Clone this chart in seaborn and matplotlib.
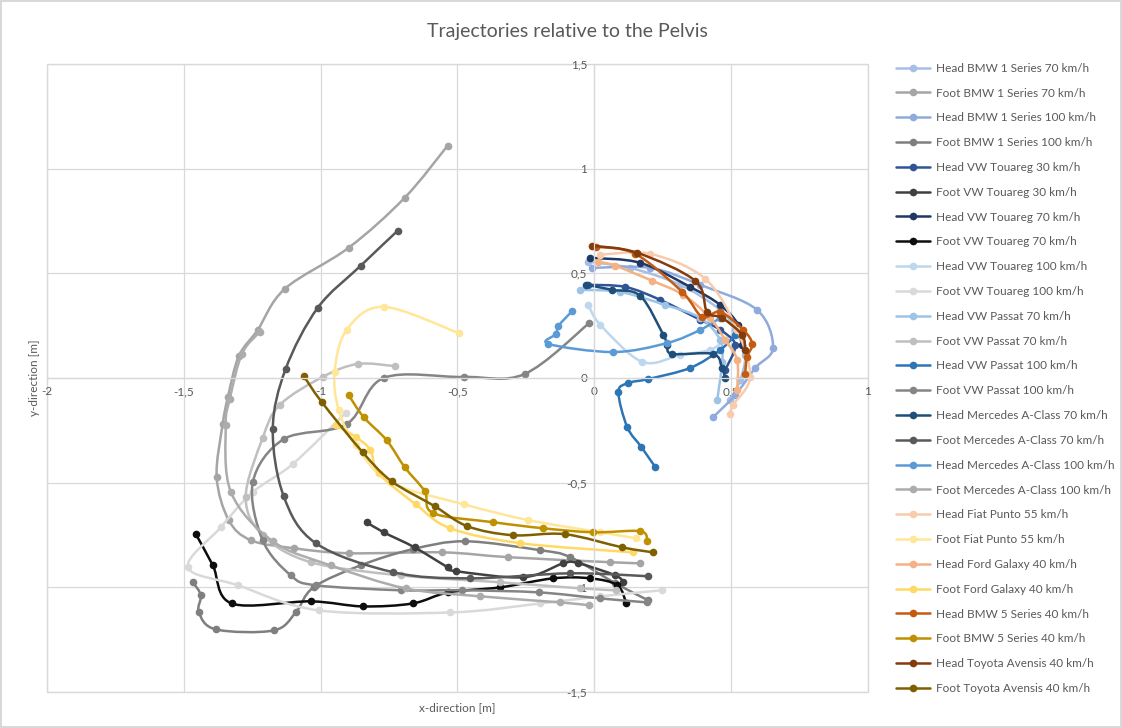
import matplotlib
matplotlib.use("Agg")
import matplotlib.pyplot as plt
import seaborn as sns
from matplotlib.ticker import FuncFormatter
from matplotlib.path import Path
from matplotlib.patches import PathPatch
from matplotlib.lines import Line2D

# ---- series names and colours ----
names = [
    "Head BMW 1 Series 70 km/h", "Foot BMW 1 Series 70 km/h",
    "Head BMW 1 Series 100 km/h", "Foot BMW 1 Series 100 km/h",
    "Head VW Touareg 30 km/h", "Foot VW Touareg 30 km/h",
    "Head VW Touareg 70 km/h", "Foot VW Touareg 70 km/h",
    "Head VW Touareg 100 km/h", "Foot VW Touareg 100 km/h",
    "Head VW Passat 70 km/h", "Foot VW Passat 70 km/h",
    "Head VW Passat 100 km/h", "Foot VW Passat 100 km/h",
    "Head Mercedes A-Class 70 km/h", "Foot Mercedes A-Class 70 km/h",
    "Head Mercedes A-Class 100 km/h", "Foot Mercedes A-Class 100 km/h",
    "Head Fiat Punto 55 km/h", "Foot Fiat Punto 55 km/h",
    "Head Ford Galaxy 40 km/h", "Foot Ford Galaxy 40 km/h",
    "Head BMW 5 Series 40 km/h", "Foot BMW 5 Series 40 km/h",
    "Head Toyota Avensis 40 km/h", "Foot Toyota Avensis 40 km/h",
]
colors = [
    "#a6bfe3", "#a5a5a5", "#8faadc", "#7f7f7f",
    "#2f5597", "#404040", "#1f3864", "#0d0d0d",
    "#bdd7ee", "#d9d9d9", "#9dc3e6", "#bfbfbf",
    "#2e75b6", "#858585", "#1f4e79", "#595959",
    "#5b9bd5", "#acacac", "#f8cbad", "#ffe699",
    "#f4b183", "#ffd966", "#c55a11", "#bf9000",
    "#843c0c", "#7f6000",
]

# ---- trajectories (x, y in metres) ----
head_bmw1_70_x = [-0.022, 0.131, 0.314, 0.460, 0.515, 0.551, 0.533, 0.496]
head_bmw1_70_y = [0.555, 0.526, 0.445, 0.325, 0.230, 0.110, -0.010, -0.105]
foot_bmw1_70_x = [-0.536, -0.693, -0.898, -1.131, -1.230, -1.299, -1.339, -1.358, -1.380,
                  -1.336, -1.255, -1.099, -0.898, -0.555, -0.314, 0.058, 0.168]
foot_bmw1_70_y = [1.110, 0.861, 0.622, 0.426, 0.230, 0.105, -0.091, -0.220, -0.474,
                  -0.679, -0.775, -0.813, -0.837, -0.833, -0.856, -0.880, -0.885]

head_bmw1_100_x = [-0.007, 0.204, 0.387, 0.595, 0.653, 0.588, 0.515, 0.434]
head_bmw1_100_y = [0.526, 0.526, 0.445, 0.325, 0.144, 0.048, -0.081, -0.187]
foot_bmw1_100_x = [-1.467, -1.438, -1.445, -1.383, -1.172, -1.091, -1.026, -0.854, -0.664,
                   -0.471, -0.197, -0.088, 0.077, 0.197]
foot_bmw1_100_y = [-0.976, -1.038, -1.120, -1.201, -1.206, -1.120, -1.000, -0.895, -0.818,
                   -0.780, -0.823, -0.856, -0.981, -1.062]

head_touareg_30_x = [-0.022, 0.113, 0.241, 0.387, 0.460, 0.515, 0.478]
head_touareg_30_y = [0.445, 0.435, 0.373, 0.278, 0.230, 0.158, 0.038]
foot_touareg_30_x = [-0.832, -0.770, -0.657, -0.536, -0.504, -0.259, -0.113, -0.058, 0.077, 0.106]
foot_touareg_30_y = [-0.689, -0.737, -0.809, -0.904, -0.923, -0.952, -0.885, -0.885, -0.943, -0.976]

head_touareg_70_x = [-0.015, 0.168, 0.350, 0.460, 0.526, 0.540]
head_touareg_70_y = [0.574, 0.550, 0.435, 0.349, 0.254, 0.158]
foot_touareg_70_x = [-1.456, -1.394, -1.325, -1.036, -0.847, -0.664, -0.533, -0.343, -0.150,
                     -0.015, 0.084, 0.117]
foot_touareg_70_y = [-0.746, -0.895, -1.077, -1.067, -1.091, -1.077, -1.024, -1.000, -0.957,
                     -0.957, -0.990, -1.077]

head_touareg_100_x = [-0.022, 0.022, 0.175, 0.314, 0.423, 0.478]
head_touareg_100_y = [0.349, 0.254, 0.077, 0.110, 0.134, 0.182]
foot_touareg_100_x = [-0.909, -1.102, -1.248, -1.365, -1.485, -1.303, -1.007, -0.526, -0.197,
                      0.022, 0.248]
foot_touareg_100_y = [-0.167, -0.411, -0.545, -0.713, -0.904, -0.990, -1.110, -1.120, -1.077,
                      -1.043, -1.014]

head_passat_70_x = [-0.051, 0.095, 0.259, 0.387, 0.460, 0.467, 0.449]
head_passat_70_y = [0.421, 0.411, 0.349, 0.287, 0.182, 0.077, -0.105]
foot_passat_70_x = [-0.730, -0.865, -0.993, -1.150, -1.212, -1.274, -1.212, -1.036, -0.708,
                    -0.343, -0.051, 0.080]
foot_passat_70_y = [0.057, 0.067, 0.005, -0.129, -0.287, -0.569, -0.751, -0.880, -0.943,
                    -0.976, -1.005, -1.014]

head_passat_100_x = [0.223, 0.172, 0.120, 0.088, 0.124, 0.197, 0.350, 0.460, 0.515]
head_passat_100_y = [-0.426, -0.330, -0.234, -0.067, -0.024, -0.005, 0.048, 0.134, 0.206]
foot_passat_100_x = [-0.018, -0.255, -0.478, -0.770, -0.905, -1.135, -1.248, -1.212, -1.109,
                     -1.018, -0.708, -0.482, -0.204, 0.022, 0.193]
foot_passat_100_y = [0.263, 0.019, 0.005, 0.000, -0.220, -0.292, -0.498, -0.775, -0.943,
                     -0.990, -1.014, -1.014, -1.024, -1.053, -1.072]

head_merc_70_x = [-0.029, 0.066, 0.168, 0.252, 0.266, 0.285, 0.434, 0.467, 0.478]
head_merc_70_y = [0.445, 0.421, 0.392, 0.206, 0.158, 0.115, 0.115, 0.048, 0.000]
foot_merc_70_x = [-0.719, -0.854, -1.011, -1.128, -1.175, -1.135, -1.018, -0.734, -0.453,
                  -0.088, 0.197]
foot_merc_70_y = [0.703, 0.536, 0.335, 0.043, -0.244, -0.565, -0.789, -0.928, -0.957,
                  -0.933, -0.947]

head_merc_100_x = [-0.080, -0.131, -0.139, -0.168, 0.069, 0.266, 0.387, 0.460]
head_merc_100_y = [0.321, 0.249, 0.211, 0.163, 0.124, 0.167, 0.230, 0.287]
foot_merc_100_x = [-1.223, -1.288, -1.332, -1.347, -1.328, -1.175, -0.964, -0.690, -0.416,
                   -0.124, -0.018]
foot_merc_100_y = [0.220, 0.115, -0.100, -0.225, -0.545, -0.780, -0.895, -1.005, -1.043,
                   -1.072, -1.086]

head_punto_x = [0.022, 0.204, 0.405, 0.522, 0.569, 0.507, 0.496]
head_punto_y = [0.589, 0.593, 0.474, 0.230, 0.005, -0.129, -0.172]
foot_punto_x = [-0.496, -0.770, -0.905, -0.949, -0.934, -0.872, -0.745, -0.478, -0.241, 0.022, 0.153]
foot_punto_y = [0.215, 0.340, 0.230, 0.029, -0.153, -0.321, -0.498, -0.603, -0.679, -0.737, -0.766]

head_galaxy_x = [0.015, 0.077, 0.212, 0.325, 0.423, 0.478, 0.522, 0.522]
head_galaxy_y = [0.555, 0.536, 0.464, 0.397, 0.287, 0.182, 0.086, -0.057]
foot_galaxy_x = [-0.945, -0.872, -0.818, -0.788, -0.653, -0.526, -0.270, 0.142]
foot_galaxy_y = [-0.225, -0.282, -0.344, -0.455, -0.603, -0.718, -0.789, -0.833]

head_bmw5_x = [0.007, 0.150, 0.321, 0.394, 0.460, 0.544, 0.577, 0.558, 0.551]
head_bmw5_y = [0.627, 0.593, 0.411, 0.292, 0.316, 0.230, 0.163, 0.100, 0.019]
foot_bmw5_x = [-0.898, -0.843, -0.759, -0.693, -0.620, -0.588, -0.369, -0.186, -0.004, 0.168, 0.193]
foot_bmw5_y = [-0.081, -0.187, -0.297, -0.426, -0.541, -0.646, -0.689, -0.718, -0.737, -0.732, -0.780]

head_avensis_x = [-0.007, 0.157, 0.369, 0.412, 0.467, 0.540, 0.551]
head_avensis_y = [0.632, 0.598, 0.464, 0.316, 0.287, 0.206, 0.134]
foot_avensis_x = [-1.062, -0.996, -0.847, -0.741, -0.584, -0.464, -0.299, -0.109, 0.102, 0.215]
foot_avensis_y = [0.010, -0.115, -0.354, -0.493, -0.612, -0.708, -0.751, -0.746, -0.809, -0.833]

trajectories = [
    (head_bmw1_70_x, head_bmw1_70_y), (foot_bmw1_70_x, foot_bmw1_70_y),
    (head_bmw1_100_x, head_bmw1_100_y), (foot_bmw1_100_x, foot_bmw1_100_y),
    (head_touareg_30_x, head_touareg_30_y), (foot_touareg_30_x, foot_touareg_30_y),
    (head_touareg_70_x, head_touareg_70_y), (foot_touareg_70_x, foot_touareg_70_y),
    (head_touareg_100_x, head_touareg_100_y), (foot_touareg_100_x, foot_touareg_100_y),
    (head_passat_70_x, head_passat_70_y), (foot_passat_70_x, foot_passat_70_y),
    (head_passat_100_x, head_passat_100_y), (foot_passat_100_x, foot_passat_100_y),
    (head_merc_70_x, head_merc_70_y), (foot_merc_70_x, foot_merc_70_y),
    (head_merc_100_x, head_merc_100_y), (foot_merc_100_x, foot_merc_100_y),
    (head_punto_x, head_punto_y), (foot_punto_x, foot_punto_y),
    (head_galaxy_x, head_galaxy_y), (foot_galaxy_x, foot_galaxy_y),
    (head_bmw5_x, head_bmw5_y), (foot_bmw5_x, foot_bmw5_y),
    (head_avensis_x, head_avensis_y), (foot_avensis_x, foot_avensis_y),
]

x_ticks = [-2, -1.5, -1, -0.5, 0, 0.5, 1]
y_ticks = [-1.5, -1, -0.5, 0, 0.5, 1, 1.5]


def smooth_path(xs, ys):
    """Cubic Bezier path through the points (smoothed scatter line)."""
    pts = list(zip(xs, ys))
    n = len(pts)
    verts = [pts[0]]
    codes = [Path.MOVETO]
    for i in range(n - 1):
        p0 = pts[max(i - 1, 0)]
        p1 = pts[i]
        p2 = pts[i + 1]
        p3 = pts[min(i + 2, n - 1)]
        c1 = (p1[0] + (p2[0] - p0[0]) / 6, p1[1] + (p2[1] - p0[1]) / 6)
        c2 = (p2[0] - (p3[0] - p1[0]) / 6, p2[1] - (p3[1] - p1[1]) / 6)
        verts += [c1, c2, p2]
        codes += [Path.CURVE4] * 3
    return Path(verts, codes)


# ---- figure ----
sns.set_theme(style="white")
plt.rcParams["font.family"] = ["Lato", "DejaVu Sans"]
text_col = "#595959"
grid_col = "#d9d9d9"
line_w = 1.8
mark_s = 5.5

fig = plt.figure(figsize=(11.22, 7.28), dpi=100)
fig.patch.set_edgecolor(grid_col)
fig.patch.set_linewidth(1.5)
ax = fig.add_axes([47 / 1122, 36 / 728, (868 - 47) / 1122, (692 - 64) / 728])

handles = []
for k, ((xs, ys), name, col) in enumerate(zip(trajectories, names, colors)):
    z = 2 + k * 0.01
    ax.add_patch(PathPatch(smooth_path(xs, ys), facecolor="none", edgecolor=col,
                           linewidth=line_w, zorder=z, capstyle="round",
                           joinstyle="round"))
    sns.scatterplot(x=xs, y=ys, ax=ax, color=col, s=mark_s ** 2, linewidth=0,
                    legend=False, zorder=z + 0.005)
    handles.append(Line2D([], [], color=col, linewidth=line_w, marker="o",
                          markersize=mark_s, markeredgewidth=0, label=name))

ax.set_xlim(x_ticks[0], x_ticks[-1])
ax.set_ylim(y_ticks[0], y_ticks[-1])
ax.set_xticks(x_ticks)
ax.set_yticks(y_ticks)
fmt = FuncFormatter(lambda v, _: f"{v:g}".replace(".", ","))
ax.xaxis.set_major_formatter(fmt)
ax.yaxis.set_major_formatter(fmt)
ax.grid(True, color=grid_col, linewidth=0.9)
ax.set_axisbelow(True)

for side in ("top", "right"):
    ax.spines[side].set_visible(False)
ax.spines["left"].set_position(("data", 0))
ax.spines["bottom"].set_position(("data", 0))
for side in ("left", "bottom"):
    ax.spines[side].set_color(grid_col)
    ax.spines[side].set_linewidth(0.9)
ax.patch.set_edgecolor(grid_col)
ax.patch.set_linewidth(1.0)
ax.tick_params(axis="both", length=0, labelsize=8.5, labelcolor=text_col)
ax.tick_params(axis="x", pad=6)
ax.tick_params(axis="y", pad=5)

ax.set_xlabel("x-direction [m]", fontsize=8.5, color=text_col)
ax.set_ylabel("y-direction [m]", fontsize=8.5, color=text_col)
ax.xaxis.set_label_coords(0.5, -0.016)
ax.yaxis.set_label_coords(-0.009, 0.5)

fig.text(567 / 1122, 1 - 32 / 728, "Trajectories relative to the Pelvis",
         ha="center", va="center", fontsize=14, color=text_col)

ax.legend(handles=handles, loc="upper left", bbox_to_anchor=(891 / 1122, 1 - 58 / 728),
          bbox_transform=fig.transFigure, frameon=False, fontsize=8.5,
          labelcolor=text_col, handlelength=2.9, handletextpad=0.55,
          labelspacing=1.17, borderaxespad=0)

fig.savefig("out.png", dpi=100)
